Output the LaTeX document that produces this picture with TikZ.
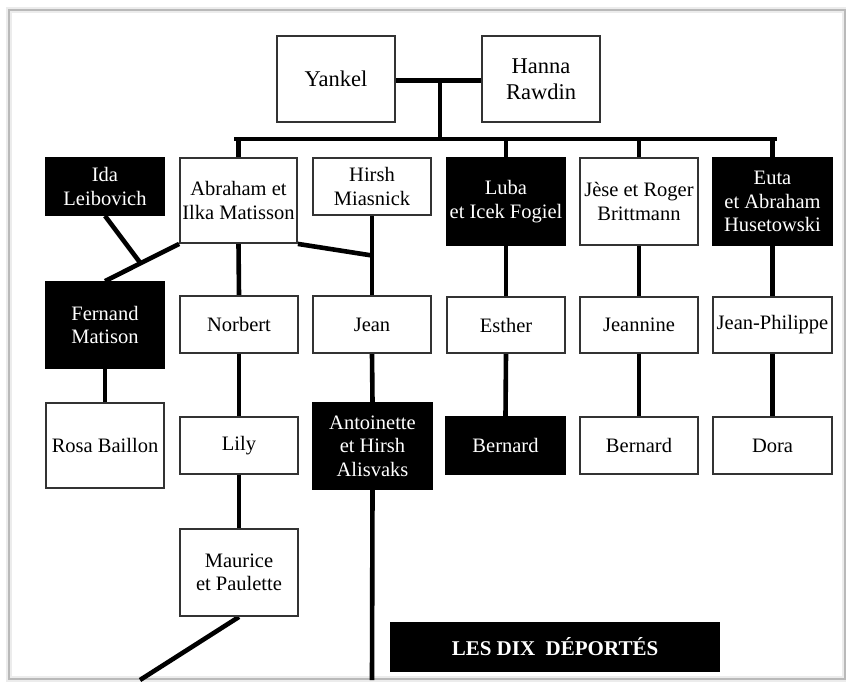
\documentclass[tikz,border=0pt]{standalone}
\usepackage{fontspec}
\setmainfont{Liberation Serif}
\usetikzlibrary{calc,backgrounds}
\newcommand{\normsz}{\fontsize{20.5}{23.5}\selectfont}
\newcommand{\bigsz}{\fontsize{22.5}{25.5}\selectfont}
\newcommand{\bansz}{\fontsize{21}{24}\selectfont\bfseries}
\tikzset{
  wbox/.style={draw=black!80, line width=1.8pt, fill=white, text=black,
    inner sep=1pt, align=center, font=\normsz, minimum width=118pt},
  bbox/.style={wbox, draw=black, fill=black, text=white},
  link/.style={line width=4.6pt, draw=black},
}
\begin{document}
\begin{tikzpicture}[x=1pt,y=-1pt]
\useasboundingbox (0,0) rectangle (846,681);

% nodes
\node[wbox, font=\bigsz, minimum height=86pt] (yankel) at (336,79) {Yankel};
\node[wbox, font=\bigsz, minimum height=86pt] (hanna) at (541,79) {Hanna\\Rawdin};

\node[bbox, minimum height=57pt] (ida) at (105,186.5) {Ida\\Leibovich};
\node[wbox, minimum height=85pt, minimum width=117pt] (abraham) at (238.5,200.5) {Abraham et\\Ilka Matisson};
\node[wbox, minimum height=57pt] (hirsh) at (372,186.5) {Hirsh\\Miasnick};
\node[bbox, minimum height=87pt] (luba) at (506,201.5) {Luba\\et Icek Fogiel};
\node[wbox, minimum height=87pt] (jese) at (639,201.5) {Jèse et Roger\\Brittmann};
\node[bbox, minimum height=87pt, minimum width=119pt] (euta) at (772.5,201.5) {Euta\\et Abraham\\Husetowski};

\node[bbox, minimum height=86pt] (fernand) at (105,325) {Fernand\\Matison};
\node[wbox, minimum height=57pt] (norbert) at (239,324.5) {Norbert};
\node[wbox, minimum height=57pt] (jean) at (372,324.5) {Jean};
\node[wbox, minimum height=56pt] (esther) at (506,325) {Esther};
\node[wbox, minimum height=56pt] (jeannine) at (639,325) {Jeannine};
\node[wbox, minimum height=56pt, minimum width=119pt] (jeanphil) at (772.5,325) {Jean-Philippe};

\node[wbox, minimum height=85pt] (rosa) at (105,445.5) {Rosa Baillon};
\node[wbox, minimum height=57pt] (lily) at (239,445.5) {Lily};
\node[bbox, minimum height=86pt, minimum width=119pt] (antoinette) at (372.5,446) {Antoinette\\et Hirsh\\Alisvaks};
\node[bbox, minimum height=57pt, minimum width=119pt] (bernardA) at (505.5,445.5) {Bernard};
\node[wbox, minimum height=57pt] (bernardB) at (639,445.5) {Bernard};
\node[wbox, minimum height=57pt, minimum width=119pt] (dora) at (772.5,445.5) {Dora};

\node[wbox, minimum height=87pt] (maurice) at (239,572.5) {Maurice\\et Paulette};

\node[bbox, font=\bansz, minimum width=328pt, minimum height=48pt] (banner) at (555,647) {LES DIX\ \ DÉPORTÉS};

% connectors
\coordinate (m) at (440,80);
\coordinate (bar) at (440,139);
\coordinate (endA) at (372,680);
\coordinate (endM) at (140,680);
\begin{scope}[on background layer]
\fill[white] (0,0) rectangle (846,681);
\draw[gray!15, line width=6pt] (9,10) rectangle (845,679);
\draw[gray!55, line width=1.3pt] (9,10) rectangle (845,679);
\draw[link, line width=5pt] (yankel.east |- m) -- (hanna.west |- m);
\draw[link] (m) -- (bar);
\draw[link, line cap=rect] ($(abraham.north |- bar)+(-2,0)$) -- ($(euta.north |- bar)+(2,0)$);
\foreach \n in {abraham,luba,jese,euta} \draw[link] (\n.north |- bar) -- (\n.north);
\draw[link] (abraham.south) -- (norbert.north);
\draw[link] (hirsh.south) -- (jean.north);
\draw[link] (abraham.south east) -- ($(hirsh.south)!0.5!(jean.north)$);
\draw[link] (abraham.south west) -- (fernand.north);
\draw[link] (ida.south) -- ($(abraham.south west)!0.52!(fernand.north)$);
\draw[link] (fernand.south) -- (rosa.north);
\draw[link] (norbert.south) -- (lily.north);
\draw[link] (lily.south) -- (maurice.north);
\draw[link] (jean.south) -- (antoinette.north);
\draw[link] (antoinette.south) -- (endA);
\draw[link] (maurice.south) -- (endM);
\draw[link] (luba.south) -- (esther.north);
\draw[link] (esther.south) -- (bernardA.north);
\draw[link] (jese.south) -- (jeannine.north);
\draw[link] (jeannine.south) -- (bernardB.north);
\draw[link] (euta.south) -- (jeanphil.north);
\draw[link] (jeanphil.south) -- (dora.north);
\end{scope}
\end{tikzpicture}
\end{document}
